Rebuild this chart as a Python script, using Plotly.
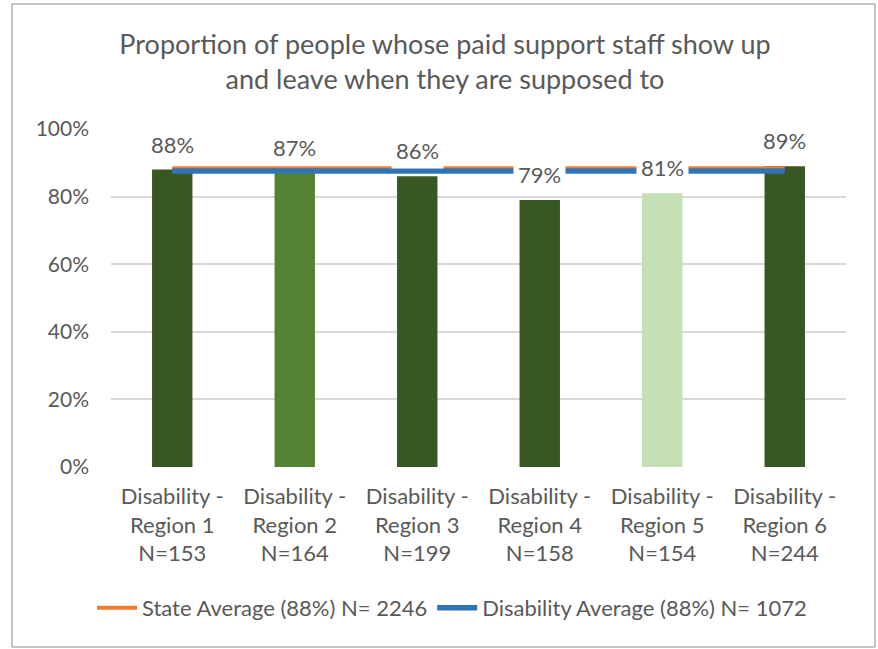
import plotly.graph_objects as go

# Survey results by region
regions = [
    "Disability -<br>Region 1<br>N=153",
    "Disability -<br>Region 2<br>N=164",
    "Disability -<br>Region 3<br>N=199",
    "Disability -<br>Region 4<br>N=158",
    "Disability -<br>Region 5<br>N=154",
    "Disability -<br>Region 6<br>N=244",
]
region_pct = [88, 87, 86, 79, 81, 89]
bar_colors = ["#385723", "#548235", "#385723", "#385723", "#C5E0B4", "#385723"]

state_avg = 88.4
disability_avg = 87.6
state_label = "State Average (88%) N= 2246"
disability_label = "Disability Average (88%) N= 1072"

y_ticks = [0, 20, 40, 60, 80, 100]

W, H = 878, 649
M_L, M_R, M_T, M_B = 111, 32, 129, 182
FONT = "Lato"
GREY = "#595959"

fig = go.Figure()

fig.add_trace(go.Bar(
    x=regions, y=region_pct,
    marker=dict(color=bar_colors, line=dict(width=0)),
    width=0.33, showlegend=False, hoverinfo="skip",
))

fig.add_trace(go.Scatter(
    x=regions, y=[state_avg] * len(regions), mode="lines",
    line=dict(color="#ED7D31", width=4), name=state_label,
))
fig.add_trace(go.Scatter(
    x=regions, y=[disability_avg] * len(regions), mode="lines",
    line=dict(color="#2E75B6", width=5.5), name=disability_label,
))

# value labels on white boxes above each bar
for cat, v in zip(regions, region_pct):
    fig.add_annotation(
        x=cat, y=v, text=f"{v}%", showarrow=False,
        yanchor="bottom", yshift=7, bgcolor="white", borderpad=4,
        font=dict(family=FONT, size=22, color=GREY),
    )

# outer frame of the chart area
pw = W - M_L - M_R
ph = H - M_T - M_B
def px_x(px):
    return (px - M_L) / pw
def px_y(py):
    return (H - M_B - py) / ph

fig.add_shape(
    type="rect", xref="paper", yref="paper",
    x0=px_x(12), x1=px_x(875), y0=px_y(647), y1=px_y(4),
    line=dict(color="#8C8C8C", width=1), fillcolor="rgba(0,0,0,0)", layer="below",
)

fig.update_layout(
    width=W, height=H,
    margin=dict(l=M_L, r=M_R, t=M_T, b=M_B, pad=0),
    paper_bgcolor="white", plot_bgcolor="white",
    bargap=0.67,
    title=dict(
        text="Proportion of people whose paid support staff show up<br>and leave when they are supposed to",
        x=445 / W, xref="container", xanchor="center",
        y=1 - 54 / H, yref="container", yanchor="middle",
        font=dict(family=FONT, size=27, color=GREY),
    ),
    legend=dict(
        orientation="h", xref="container", yref="container",
        x=452 / W, xanchor="center", y=1 - 608 / H, yanchor="middle",
        font=dict(family=FONT, size=22, color=GREY),
        itemwidth=40, traceorder="normal", bgcolor="rgba(0,0,0,0)",
    ),
    xaxis=dict(
        type="category", showgrid=False, zeroline=False, showline=False,
        ticks="", ticklabelstandoff=14,
        tickfont=dict(family=FONT, size=22, color=GREY),
    ),
    yaxis=dict(
        range=[0, 100], tickvals=y_ticks, ticktext=[f"{t}%" for t in y_ticks],
        showgrid=True, gridcolor="#D9D9D9", gridwidth=1.5,
        zeroline=False, showline=False, ticks="",
        ticklabelstandoff=21,
        tickfont=dict(family=FONT, size=21, color=GREY),
    ),
    showlegend=True,
)

fig.write_html("out.html")
